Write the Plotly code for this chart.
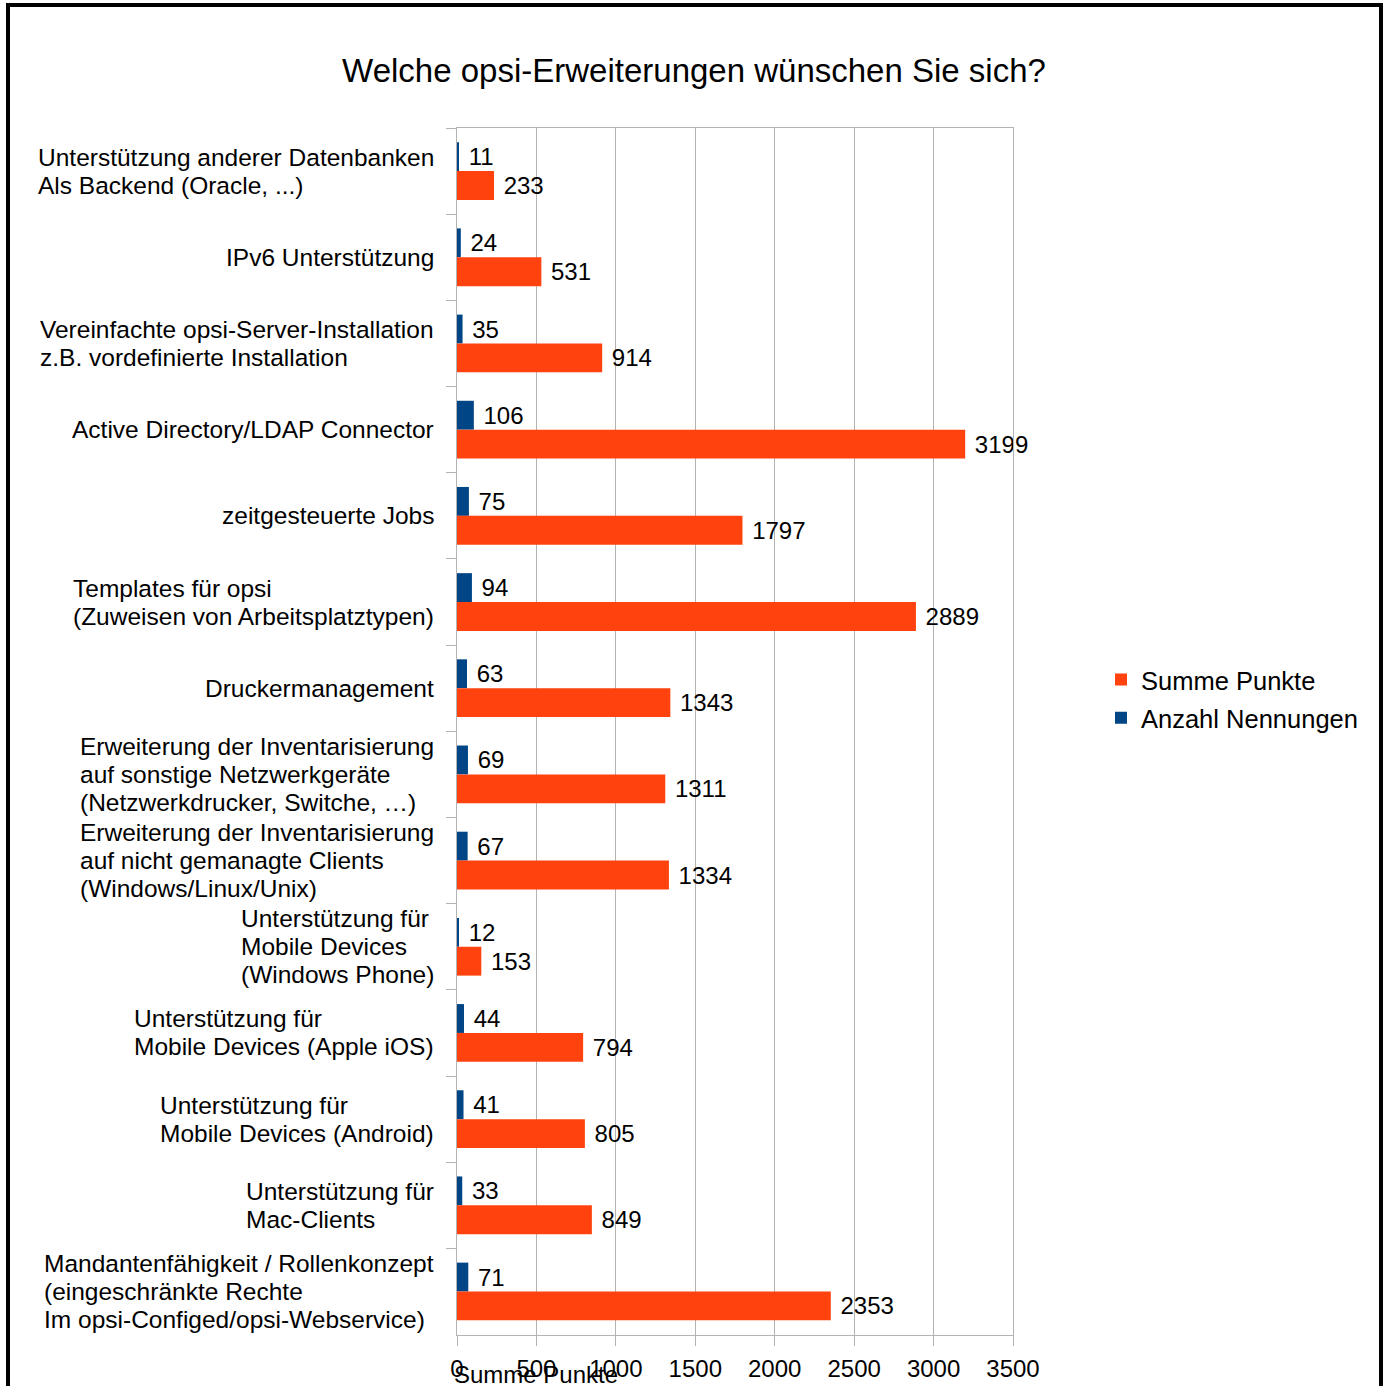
import plotly.graph_objects as go

# ---- data ----
categories = [
    "Unterstützung anderer Datenbanken<br>Als Backend (Oracle, ...)",
    "IPv6 Unterstützung",
    "Vereinfachte opsi-Server-Installation<br>z.B. vordefinierte Installation",
    "Active Directory/LDAP Connector",
    "zeitgesteuerte Jobs",
    "Templates für opsi<br>(Zuweisen von Arbeitsplatztypen)",
    "Druckermanagement",
    "Erweiterung der Inventarisierung<br>auf sonstige Netzwerkgeräte<br>(Netzwerkdrucker, Switche, …)",
    "Erweiterung der Inventarisierung<br>auf nicht gemanagte Clients<br>(Windows/Linux/Unix)",
    "Unterstützung für<br>Mobile Devices<br>(Windows Phone)",
    "Unterstützung für<br>Mobile Devices (Apple iOS)",
    "Unterstützung für<br>Mobile Devices (Android)",
    "Unterstützung für<br>Mac-Clients",
    "Mandantenfähigkeit / Rollenkonzept<br>(eingeschränkte Rechte<br>Im opsi-Configed/opsi-Webservice)",
]
anzahl_nennungen = [11, 24, 35, 106, 75, 94, 63, 69, 67, 12, 44, 41, 33, 71]
summe_punkte = [233, 531, 914, 3199, 1797, 2889, 1343, 1311, 1334, 153, 794, 805, 849, 2353]
x_ticks = [0, 500, 1000, 1500, 2000, 2500, 3000, 3500]

title_text = "Welche opsi-Erweiterungen wünschen Sie sich?"
x_title = "Summe Punkte"

# ---- layout geometry (pixels) ----
W, H = 1388, 1386
L, R, T, B = 457, 1013, 128, 1335
PW, PH = R - L, B - T

def px_x(px):
    return (px - L) / PW

def px_y(py):
    return (B - py) / PH

FONT = "Liberation Sans, Arial, sans-serif"
ORANGE = "#FF420E"
BLUE = "#004586"
GRID = "#b3b3b3"

fig = go.Figure()
fig.add_trace(go.Bar(
    name="Anzahl Nennungen", y=categories, x=anzahl_nennungen, orientation="h",
    marker=dict(color=BLUE, line=dict(width=0)),
    texttemplate="\u00a0%{x}", textposition="outside",
    textfont=dict(family=FONT, size=24, color="black"),
    constraintext="none", cliponaxis=False, hoverinfo="skip",
    legendgroup="a", legendrank=2,
))
fig.add_trace(go.Bar(
    name="Summe Punkte", y=categories, x=summe_punkte, orientation="h",
    marker=dict(color=ORANGE, line=dict(width=0)),
    texttemplate="\u00a0%{x}", textposition="outside",
    textfont=dict(family=FONT, size=24, color="black"),
    constraintext="none", cliponaxis=False, hoverinfo="skip",
    legendgroup="s", legendrank=1,
))


def styled(label):
    # glyphs at 24.5px while line spacing follows the 21.5px annotation font
    return "<br>".join('<span style="font-size:24.5px">%s</span>' % ln for ln in label.split("<br>"))


annotations = []
for c in categories:
    annotations.append(dict(
        x=px_x(436), xref="paper", y=c, yref="y",
        text=styled(c), showarrow=False, xanchor="right", yanchor="middle", align="left",
        font=dict(family=FONT, size=21.5, color="black"),
    ))
annotations.append(dict(
    x=px_x(452), xref="paper", y=px_y(1374), yref="paper",
    text=x_title, showarrow=False, xanchor="left", yanchor="middle",
    font=dict(family=FONT, size=24, color="black"),
))

fig.update_layout(
    width=W, height=H, autosize=False,
    margin=dict(l=L, r=W - R, t=T, b=H - B, pad=0, autoexpand=False),
    paper_bgcolor="white", plot_bgcolor="white",
    barmode="group", bargap=0.33, bargroupgap=0,
    title=dict(text=title_text, x=0.5, xanchor="center", y=1 - 70 / H, yanchor="middle",
               font=dict(family=FONT, size=33, color="black")),
    font=dict(family=FONT, size=24, color="black"),
    showlegend=True,
    legend=dict(x=px_x(1101), xanchor="left", y=px_y(699), yanchor="middle",
                traceorder="grouped", tracegroupgap=2,
                font=dict(family=FONT, size=25.5, color="black"),
                bgcolor="rgba(0,0,0,0)", borderwidth=0, itemwidth=30),
    annotations=annotations,
    shapes=[dict(type="rect", xref="paper", yref="paper",
                 x0=px_x(8), x1=px_x(1381), y0=px_y(1400), y1=px_y(5),
                 line=dict(color="black", width=4), fillcolor="rgba(0,0,0,0)", layer="above")],
)
fig.update_xaxes(
    range=[0, 3500], tickvals=x_ticks, ticktext=[str(v) for v in x_ticks],
    showgrid=True, gridcolor=GRID, gridwidth=1, zeroline=False,
    showline=True, linecolor=GRID, linewidth=1, mirror=True,
    ticks="outside", ticklen=10, tickcolor=GRID, ticklabelstandoff=2,
    tickfont=dict(family=FONT, size=24, color="black"), automargin=False,
)
fig.update_yaxes(
    type="category", autorange="reversed", showticklabels=False,
    showgrid=False, zeroline=False,
    showline=True, linecolor=GRID, linewidth=1, mirror=True,
    ticks="outside", tickson="boundaries", ticklen=10, tickcolor=GRID, automargin=False,
)

fig.write_html("out.html", config={"displayModeBar": False},
               post_script="document.body.style.margin='0';")
